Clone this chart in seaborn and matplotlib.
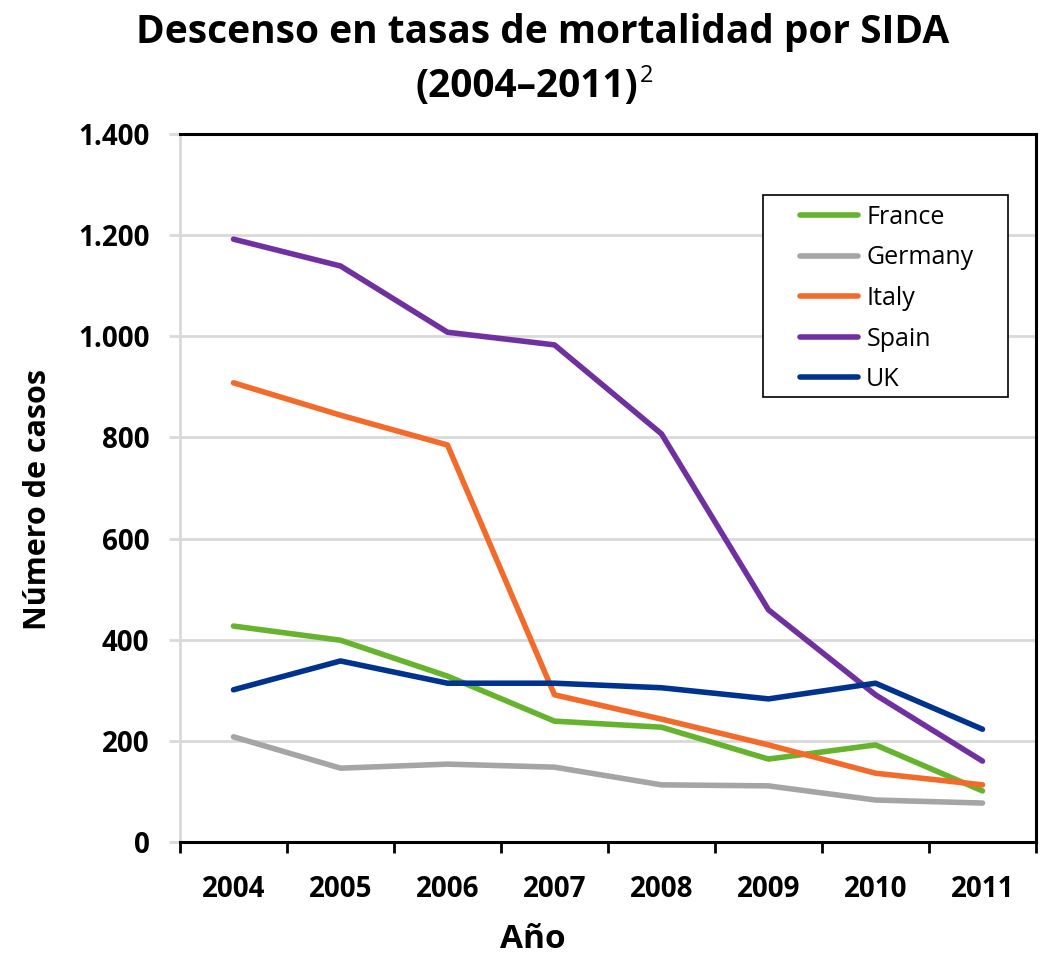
import matplotlib
matplotlib.use("Agg")
import matplotlib.pyplot as plt
from matplotlib.patches import Rectangle
import numpy as np
import pandas as pd
import seaborn as sns

years = [2004, 2005, 2006, 2007, 2008, 2009, 2010, 2011]
countries = ["France", "Germany", "Italy", "Spain", "UK"]
france = [427, 399, 328, 239, 227, 164, 192, 101]
germany = [208, 146, 154, 148, 113, 111, 83, 77]
italy = [908, 844, 785, 291, 243, 192, 136, 113]
spain = [1192, 1139, 1008, 983, 807, 459, 291, 160]
uk = [301, 358, 314, 314, 305, 283, 314, 223]
colors = ["#66b32e", "#a5a5a5", "#f26b2b", "#7030a0", "#00338e"]
y_ticks = [0, 200, 400, 600, 800, 1000, 1200, 1400]
title_line1 = "Descenso en tasas de mortalidad por SIDA"
title_line2 = "(2004\u20132011)"
title_sup = "2"
x_label = "Año"
y_label = "Número de casos"

df = pd.DataFrame({
    "Año": years * len(countries),
    "Número de casos": france + germany + italy + spain + uk,
    "País": np.repeat(countries, len(years)),
})

sns.set_theme(style="white")
plt.rcParams["font.family"] = ["Open Sans", "DejaVu Sans"]
plt.rcParams["text.color"] = "black"
plt.rcParams["axes.labelcolor"] = "black"
plt.rcParams["xtick.color"] = "black"
plt.rcParams["ytick.color"] = "black"

fig = plt.figure(figsize=(10.41, 9.57), dpi=100)
ax = fig.add_axes([180 / 1041, 1 - 842 / 957, (1036 - 180) / 1041, (842 - 134) / 957])

sns.lineplot(data=df, x="Año", y="Número de casos", hue="País", palette=colors,
             linewidth=4.0, ax=ax, solid_capstyle="round", solid_joinstyle="round",
             zorder=3)

# axes ranges and ticks
ax.set_xlim(years[0] - 0.5, years[-1] + 0.5)
ax.set_ylim(y_ticks[0], y_ticks[-1])
ax.set_xticks(np.arange(years[0] - 0.5, years[-1] + 1, 1))
ax.set_xticklabels([])
ax.set_xticks(years, minor=True)
ax.set_xticklabels([str(y) for y in years], minor=True)
ax.set_yticks(y_ticks)
ax.set_yticklabels([f"{v:,}".replace(",", ".") for v in y_ticks])

ax.tick_params(axis="x", which="major", direction="out", length=8, width=2, color="black", bottom=True)
ax.tick_params(axis="x", which="minor", length=0, pad=24, labelsize=20, bottom=True,
               labelcolor="black")
ax.tick_params(axis="y", direction="out", length=8, width=2, color="#d9d9d9", pad=14,
               labelsize=20, left=True, labelcolor="black")
for lab in ax.get_xticklabels(minor=True) + ax.get_yticklabels():
    lab.set_fontweight("bold")

ax.yaxis.grid(True, color="#d9d9d9", linewidth=2, zorder=0)
ax.xaxis.grid(False)
ax.set_axisbelow(True)

for side in ["top", "bottom", "right"]:
    ax.spines[side].set_color("black")
    ax.spines[side].set_linewidth(2.2)
    ax.spines[side].set_zorder(4)
ax.spines["left"].set_color("#d9d9d9")
ax.spines["left"].set_linewidth(2)

ax.set_xlabel(x_label, fontsize=24, fontweight="bold", color="black", va="center")
ax.xaxis.set_label_coords((533 - 180) / 856, (842 - 940) / 708)
ax.set_ylabel(y_label, fontsize=22, fontweight="bold", color="black", va="center")
ax.yaxis.set_label_coords((38 - 180) / 856, (842 - 500) / 708)

# legend
handles, labels = ax.get_legend_handles_labels()
ax.add_patch(Rectangle(((763 - 180) / 856, (842 - 397) / 708), (1008 - 763) / 856, (397 - 195) / 708,
                       transform=ax.transAxes, facecolor="white", edgecolor="black",
                       linewidth=1.2, zorder=5))
leg = ax.legend(handles, labels, loc="upper left", bbox_to_anchor=((800 - 180) / 856, (842 - 205) / 708),
                frameon=False, fontsize=18, handlelength=2.3, handletextpad=0.35,
                borderpad=0, borderaxespad=0, labelspacing=0.62)
leg.set_zorder(6)
for line in leg.get_lines():
    line.set_linewidth(4.0)
    line.set_solid_capstyle("round")
for txt in leg.get_texts():
    txt.set_color("black")

# title
fig.text(0.521, 1 - 32 / 957, title_line1, ha="center", va="center", fontsize=28, fontweight="bold")
t2 = fig.text(0.506, 1 - 86 / 957, title_line2, ha="center", va="center", fontsize=28, fontweight="bold")
fig.canvas.draw()
bb = t2.get_window_extent(fig.canvas.get_renderer())
fig.text((bb.x1 + 2) / 1041, (bb.y1 - 22) / 957, title_sup, ha="left", va="bottom", fontsize=17)

fig.savefig("out.png", dpi=100, facecolor="white")
